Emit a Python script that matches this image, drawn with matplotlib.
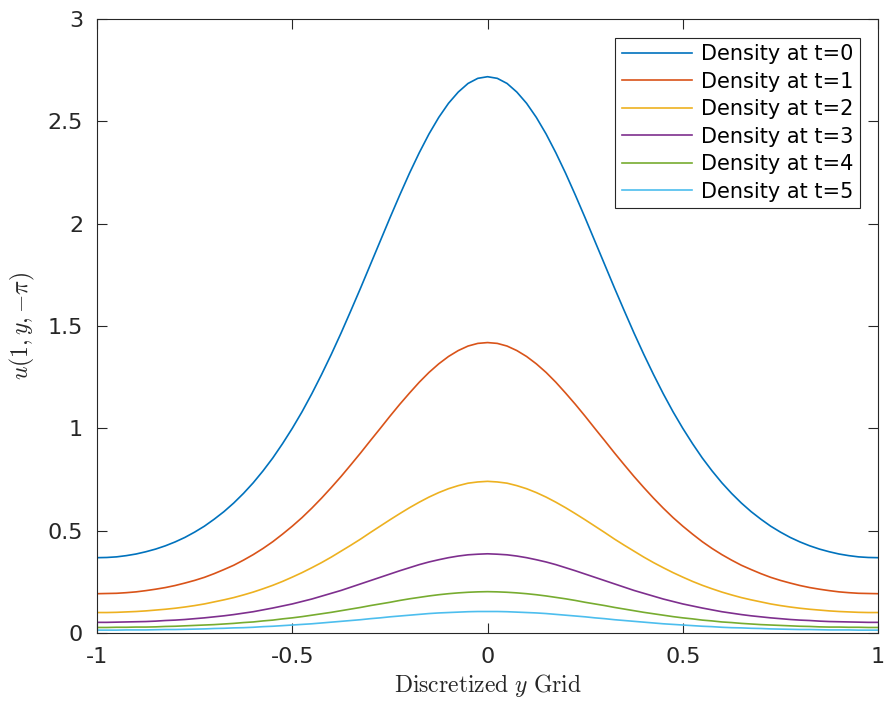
import numpy as np
import matplotlib
matplotlib.use("Agg")
import matplotlib.pyplot as plt

plt.rcParams['mathtext.fontset'] = 'cm'

# the curves are symmetric about y=0, so read the right half (y = 0 .. 1)
y_half = np.array([0.000, 0.025, 0.050, 0.075, 0.100, 0.125, 0.150, 0.175, 0.200, 0.225,
                   0.250, 0.275, 0.300, 0.325, 0.350, 0.375, 0.400, 0.425, 0.450, 0.475,
                   0.500, 0.525, 0.550, 0.575, 0.600, 0.625, 0.650, 0.675, 0.700, 0.725,
                   0.750, 0.775, 0.800, 0.825, 0.850, 0.875, 0.900, 0.925, 0.950, 0.975, 1.000])

d_t0 = [2.718, 2.710, 2.685, 2.643, 2.588, 2.519, 2.438, 2.346, 2.246, 2.139,
        2.028, 1.914, 1.800, 1.686, 1.575, 1.466, 1.362, 1.263, 1.169, 1.081,
        1.000, 0.925, 0.855, 0.792, 0.734, 0.682, 0.635, 0.593, 0.556, 0.522,
        0.493, 0.467, 0.445, 0.426, 0.410, 0.397, 0.386, 0.378, 0.372, 0.369, 0.368]
d_t1 = [1.419, 1.415, 1.402, 1.380, 1.351, 1.315, 1.273, 1.225, 1.172, 1.117,
        1.059, 0.999, 0.940, 0.880, 0.822, 0.765, 0.711, 0.659, 0.610, 0.564,
        0.522, 0.483, 0.446, 0.413, 0.383, 0.356, 0.331, 0.310, 0.290, 0.272,
        0.257, 0.244, 0.232, 0.222, 0.214, 0.207, 0.201, 0.197, 0.194, 0.193, 0.192]
d_t2 = [0.741, 0.738, 0.732, 0.720, 0.705, 0.686, 0.664, 0.639, 0.612, 0.583,
        0.553, 0.522, 0.491, 0.459, 0.429, 0.400, 0.371, 0.344, 0.319, 0.295,
        0.273, 0.252, 0.233, 0.216, 0.200, 0.186, 0.173, 0.162, 0.152, 0.142,
        0.134, 0.127, 0.121, 0.116, 0.112, 0.108, 0.105, 0.103, 0.101, 0.100, 0.100]
d_t3 = [0.387, 0.385, 0.382, 0.376, 0.368, 0.358, 0.347, 0.334, 0.319, 0.304,
        0.288, 0.272, 0.256, 0.240, 0.224, 0.208, 0.194, 0.180, 0.166, 0.154,
        0.142, 0.132, 0.122, 0.113, 0.104, 0.097, 0.090, 0.084, 0.079, 0.074,
        0.070, 0.066, 0.063, 0.061, 0.058, 0.056, 0.055, 0.054, 0.053, 0.052, 0.052]
d_t4 = [0.202, 0.201, 0.199, 0.196, 0.192, 0.187, 0.181, 0.174, 0.167, 0.159,
        0.150, 0.142, 0.134, 0.125, 0.117, 0.109, 0.101, 0.094, 0.087, 0.080,
        0.074, 0.069, 0.063, 0.059, 0.054, 0.051, 0.047, 0.044, 0.041, 0.039,
        0.037, 0.035, 0.033, 0.032, 0.030, 0.029, 0.029, 0.028, 0.028, 0.027, 0.027]
d_t5 = [0.105, 0.105, 0.104, 0.102, 0.100, 0.098, 0.095, 0.091, 0.087, 0.083,
        0.079, 0.074, 0.070, 0.065, 0.061, 0.057, 0.053, 0.049, 0.045, 0.042,
        0.039, 0.036, 0.033, 0.031, 0.028, 0.026, 0.025, 0.023, 0.022, 0.020,
        0.019, 0.018, 0.017, 0.017, 0.016, 0.015, 0.015, 0.015, 0.014, 0.014, 0.014]

series = [d_t0, d_t1, d_t2, d_t3, d_t4, d_t5]
labels = ["Density at t=%d" % i for i in range(6)]
colors = ["#0072BD", "#D95319", "#EDB120", "#7E2F8E", "#77AC30", "#4DBEEE"]


def mirror(half):
    half = np.asarray(half)
    return np.concatenate([half[::-1], half[1:]])


y = np.concatenate([-y_half[::-1], y_half[1:]])

fig = plt.figure(figsize=(8.87, 7.06), dpi=100)
ax = fig.add_axes([0.1094, 0.1034, 0.8805, 0.8697])

for d, lab, c in zip(series, labels, colors):
    ax.plot(y, mirror(d), color=c, lw=1.2, label=lab)

ax.set_xlim(-1, 1)
ax.set_ylim(0, 3)
ax.set_xticks([-1, -0.5, 0, 0.5, 1])
ax.set_xticklabels(["-1", "-0.5", "0", "0.5", "1"])
ax.set_yticks([0, 0.5, 1, 1.5, 2, 2.5, 3])
ax.set_yticklabels(["0", "0.5", "1", "1.5", "2", "2.5", "3"])
ax.tick_params(direction='in', top=True, right=True, length=7, width=0.8,
               labelsize=16, colors='#262626', pad=10)
for s in ax.spines.values():
    s.set_color('#262626')
    s.set_linewidth(0.8)

ax.set_xlabel(r"$\mathrm{Discretized}\ y\ \mathrm{Grid}$", fontsize=17, color='#262626', labelpad=4)
ax.set_ylabel(r"$u(1,y,{-}\pi)$", fontsize=17, color='#262626', labelpad=8)

leg = ax.legend(loc='upper right', bbox_to_anchor=(0.977, 0.969), fontsize=15,
                handlelength=3.4, handletextpad=0.43, labelspacing=0.36,
                borderpad=0.3, borderaxespad=0, fancybox=False, framealpha=1)
leg.get_frame().set_edgecolor('#262626')
leg.get_frame().set_linewidth(0.8)

fig.savefig("out.png", dpi=100)
